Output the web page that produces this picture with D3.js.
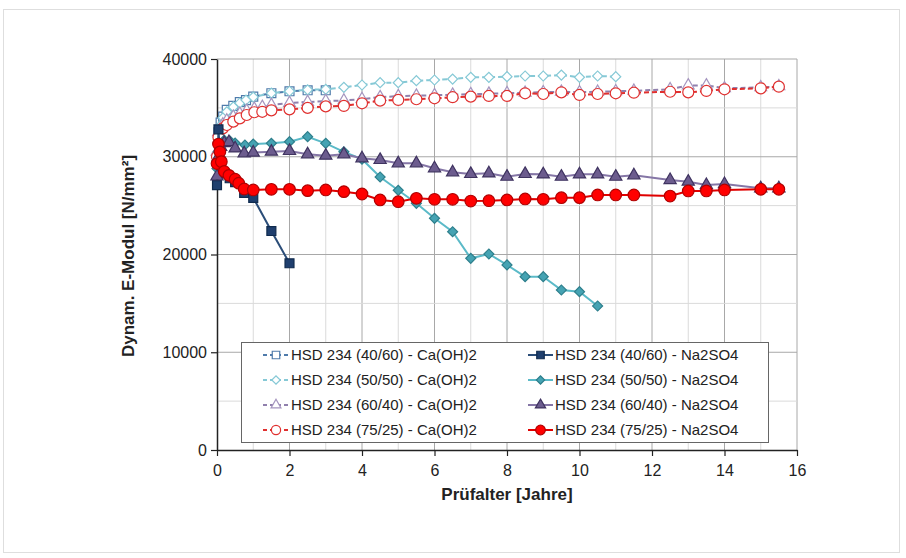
<!DOCTYPE html>
<html><head><meta charset="utf-8">
<script src="https://cdn.jsdelivr.net/npm/d3@7"></script>
<style>body{margin:0;background:#fff}svg{display:block;font-family:"Liberation Sans",Arial,sans-serif}</style>
</head><body><svg id="c" width="906" height="558"></svg>
<script>
// ---- data ----
const xTicks = [0,2,4,6,8,10,12,14,16];
const yTicks = [0,10000,20000,30000,40000];
const names = [
 "HSD 234 (40/60) - Ca(OH)2","HSD 234 (50/50) - Ca(OH)2","HSD 234 (60/40) - Ca(OH)2","HSD 234 (75/25) - Ca(OH)2",
 "HSD 234 (40/60) - Na2SO4","HSD 234 (50/50) - Na2SO4","HSD 234 (60/40) - Na2SO4","HSD 234 (75/25) - Na2SO4"];
const x1 = [0,0.04,0.1,0.17,0.27,0.45,0.63,0.8,1,1.5,2,2.5,3];
const y1 = [30000,32500,33500,34100,34800,35200,35600,35800,36150,36500,36700,36800,36800];
const x2 = [0,0.04,0.1,0.17,0.27,0.45,0.63,0.8,1,1.5,2,2.5,3,3.5,4,4.5,5,5.5,6,6.5,7,7.5,8,8.5,9,9.5,10,10.5,11];
const y2 = [29500,32000,33200,34000,34600,35100,35500,35800,36100,36500,36700,36850,36900,37100,37340,37580,37580,37780,37850,37950,38130,38130,38190,38260,38260,38360,38130,38260,38190];
const x3 = [0,0.04,0.16,0.27,0.45,0.63,0.82,1.03,1.25,1.5,2,2.5,3,3.5,4,4.5,5,5.5,6,6.5,7,7.5,8,8.5,9,9.5,10,10.5,11,11.5,12.5,13,13.5,14,15,15.5];
const y3 = [30500,32500,33300,33700,34100,34400,34700,34900,35100,35300,35500,35600,35700,35750,35900,36100,36200,36250,36300,36350,36400,36450,36500,36550,36600,36650,36600,36650,36700,36750,36900,37300,37300,37000,37100,37200];
const x4 = [0,0.04,0.16,0.27,0.45,0.63,0.82,1.03,1.25,1.5,2,2.5,3,3.5,4,4.5,5,5.5,6,6.5,7,7.5,8,8.5,9,9.5,10,10.5,11,11.5,12.5,13,13.5,14,15,15.5];
const y4 = [30000,32000,32900,33250,33590,33930,34270,34550,34600,34750,34850,35000,35150,35200,35470,35740,35810,35880,35980,36090,36150,36220,36220,36490,36420,36590,36320,36420,36490,36550,36650,36590,36730,36900,37000,37170];
const x5 = [0,0.04,0.1,0.2,0.35,0.5,0.75,1,1.5,2];
const y5 = [27100,32800,29500,28300,27800,27400,26300,25800,22400,19100];
const x6 = [0,0.04,0.1,0.2,0.36,0.5,0.77,1,1.5,2,2.5,3,3.5,4,4.5,5,5.5,6,6.5,7,7.5,8,8.5,9,9.5,10,10.5];
const y6 = [28800,30500,31200,31700,31600,31400,31200,31300,31370,31540,32050,31370,30500,29750,27930,26570,25240,23700,22330,19610,20050,18930,17730,17730,16370,16200,14730];
const x7 = [0,0.04,0.1,0.2,0.33,0.5,0.75,1,1.5,2,2.5,3,3.5,4,4.5,5,5.5,6,6.5,7,7.5,8,8.5,9,9.5,10,10.5,11,11.5,12.5,13,13.5,14,15,15.5];
const y7 = [28000,30000,31000,31400,31500,30860,30350,30420,30520,30590,30250,30110,30250,29840,29670,29330,29330,28820,28410,28240,28300,27960,28240,28200,27960,28200,28200,27960,28100,27620,27450,27110,27210,26770,26770];
const x8 = [0,0.04,0.08,0.12,0.2,0.33,0.5,0.6,0.75,1,1.5,2,2.5,3,3.5,4,4.5,5,5.5,6,6.5,7,7.5,8,8.5,9,9.5,10,10.5,11,11.5,12.5,13,13.5,14,15,15.5];
const y8 = [29300,31300,30500,29500,28500,28100,27700,27300,26700,26600,26670,26670,26530,26600,26430,26190,25580,25400,25750,25650,25650,25470,25500,25580,25680,25650,25810,25810,26090,26090,26090,25980,26500,26500,26600,26670,26670];
const xs = [x1,x2,x3,x4,x5,x6,x7,x8];
const ys = [y1,y2,y3,y4,y5,y6,y7,y8];

// ---- styles ----
const styles = [
 {shape:"square", size:80, fill:"#fff", stroke:"#4f7bab", line:"#4f7bab", dash:"5,3"},
 {shape:"diamond", size:50, fill:"#fff", stroke:"#86c9d6", line:"#86c9d6", dash:"5,3"},
 {shape:"triangle", size:60, fill:"#fff", stroke:"#a595bf", line:"#9080ad", dash:"5,3"},
 {shape:"circle", size:95, fill:"#fff", stroke:"#e0302f", line:"#e0302f", dash:"5,3"},
 {shape:"square", size:80, fill:"#1f3f6e", stroke:"#0f2a4d", line:"#2b4d78", dash:null},
 {shape:"diamond", size:50, fill:"#45a3b3", stroke:"#2e7f8c", line:"#5bbac8", dash:null},
 {shape:"triangle", size:65, fill:"#6c5c8e", stroke:"#3f3360", line:"#8576a6", dash:null},
 {shape:"circle", size:105, fill:"#ff0000", stroke:"#b00000", line:"#e00000", dash:null}
];
const symType = {square:d3.symbolSquare, diamond:d3.symbolSquare, triangle:d3.symbolTriangle, circle:d3.symbolCircle};
const rot = s => s==="diamond" ? " rotate(45)" : "";

const svg = d3.select("#c");
const X = d3.scaleLinear().domain([0,16]).range([217,797]);
const Y = d3.scaleLinear().domain([0,40000]).range([450,59]);

// outer frame
svg.append("rect").attr("x",3.5).attr("y",9.5).attr("width",896).attr("height",543)
  .attr("fill","none").attr("stroke","#dedede");

// grid
const g = svg.append("g");
d3.range(1,17,1).forEach(v=>{
  g.append("line").attr("x1",X(v)).attr("x2",X(v)).attr("y1",Y(0)).attr("y2",Y(40000))
   .attr("stroke", v%2===0 ? "#a8a8a8" : "#dadada").attr("stroke-width",1);
});
d3.range(5000,40001,5000).forEach(v=>{
  g.append("line").attr("x1",X(0)).attr("x2",X(16)).attr("y1",Y(v)).attr("y2",Y(v))
   .attr("stroke", v%10000===0 ? "#a8a8a8" : "#dadada").attr("stroke-width",1);
});

// axes
const ax = svg.append("g").attr("transform",`translate(0,${Y(0)})`)
  .call(d3.axisBottom(X).tickValues(xTicks).tickSize(6).tickSizeOuter(0));
ax.select(".domain").attr("stroke","#222").attr("stroke-width",1.5);
ax.selectAll(".tick line").attr("stroke","#222").attr("stroke-width",1.2);
ax.selectAll("text").attr("font-size",16).attr("fill","#222").attr("dy","1.05em");
const ay = svg.append("g").attr("transform",`translate(${X(0)},0)`)
  .call(d3.axisLeft(Y).tickValues(yTicks).tickSize(6).tickSizeOuter(0).tickFormat(d3.format("d")));
ay.select(".domain").attr("stroke","#222").attr("stroke-width",1.5);
ay.selectAll(".tick line").attr("stroke","#222").attr("stroke-width",1.2);
ay.selectAll("text").attr("font-size",16).attr("fill","#222").attr("x",-10);

// titles
svg.append("text").attr("x",507).attr("y",500).attr("text-anchor","middle")
  .attr("font-size",17).attr("font-weight","bold").attr("fill","#222").text("Prüfalter [Jahre]");
svg.append("text").attr("transform","translate(134,256) rotate(-90)").attr("text-anchor","middle")
  .attr("font-size",17).attr("font-weight","bold").attr("fill","#222").text("Dynam. E-Modul [N/mm²]");

// series
const line = d3.line().x(d=>X(d[0])).y(d=>Y(d[1]));
const plot = svg.append("g");
xs.forEach((xa,i)=>{
  const st = styles[i];
  const data = d3.zip(xa, ys[i]);
  const sg = plot.append("g");
  sg.append("path").attr("d",line(data)).attr("fill","none").attr("stroke",st.line)
    .attr("stroke-width",2).attr("stroke-dasharray",st.dash);
  sg.selectAll("path.m").data(data).join("path").attr("class","m")
    .attr("transform",d=>`translate(${X(d[0])},${Y(d[1])})${rot(st.shape)}`)
    .attr("d",d3.symbol().type(symType[st.shape]).size(st.size)())
    .attr("fill",st.fill).attr("stroke",st.stroke).attr("stroke-width",1.2);
});

// legend
const lg = svg.append("g");
lg.append("rect").attr("x",241.5).attr("y",342.5).attr("width",527).attr("height",100)
  .attr("fill","#fff").attr("stroke","#666").attr("stroke-width",1);
const rowsY = [355,380,405,430];
names.forEach((n,i)=>{
  const st = styles[i];
  const col = i<4 ? 0 : 1;
  const r = i%4;
  const lx = col===0 ? 263 : 528;
  const lx2 = col===0 ? 289 : 553;
  const cy = rowsY[r];
  lg.append("line").attr("x1",lx).attr("x2",lx2).attr("y1",cy).attr("y2",cy)
    .attr("stroke",st.line).attr("stroke-width",2).attr("stroke-dasharray",st.dash ? "4,3" : null);
  lg.append("path").attr("transform",`translate(${(lx+lx2)/2},${cy})${rot(st.shape)}`)
    .attr("d",d3.symbol().type(symType[st.shape]).size(st.size*0.7)())
    .attr("fill",st.fill).attr("stroke",st.stroke).attr("stroke-width",1.2);
  lg.append("text").attr("x",col===0?291:555).attr("y",cy).attr("dy","0.36em")
    .attr("font-size",15).attr("fill","#222").text(n);
});
</script></body></html>
